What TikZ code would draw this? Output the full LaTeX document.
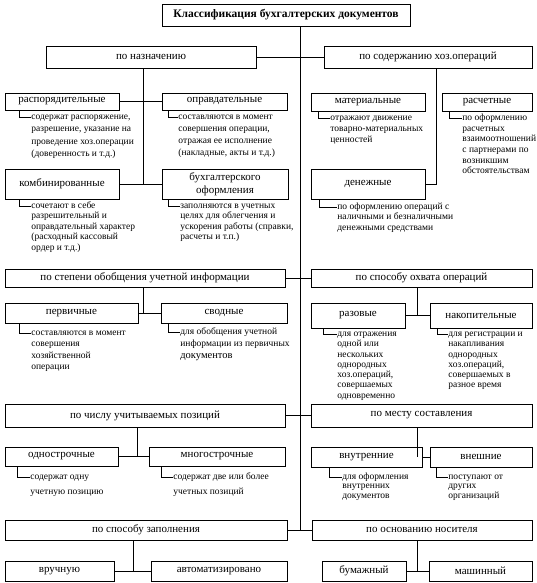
\documentclass[tikz,border=0pt]{standalone}
\usepackage{fontspec}
\setmainfont{Liberation Serif}
\newcommand{\fl}{\rule{0pt}{7pt}}
\begin{document}
\begin{tikzpicture}[x=1pt,y=-1pt,line width=0.8pt,
  box/.style 2 args={draw,inner sep=0pt,align=center,minimum width=#1,minimum height=#2,font=\fontsize{11}{12.5}\selectfont},
  titlebox/.style 2 args={box={#1}{#2},font=\fontsize{11.5}{13}\selectfont\bfseries},
  desc/.style={anchor=north west,inner sep=0pt,align=left,font=\fontsize{9.5}{#1}\selectfont}]
\useasboundingbox (0,0) rectangle (536,583);

% ---------- boxes ----------
\node[titlebox={248}{22}] (title) at (286,15) {Классификация бухгалтерских документов};
\node[box={210}{22}] (naz) at (151,57) {по назначению};
\node[box={208}{22}] (soder) at (428,57) {по содержанию хоз.операций};

\node[box={114}{17}] (rasp) at (62,101.5) {распорядительные};
\node[box={125}{17}] (oprav) at (224.5,101.5) {оправдательные};
\node[box={114}{18}] (mater) at (368,102) {материальные};
\node[box={90}{18}] (rasch) at (487,102) {расчетные};
\node[box={114}{30}] (komb) at (62,184) {комбинированные};
\node[box={126}{30}] (buh) at (225,184) {бухгалтерского\\оформления};
\node[box={114}{30}] (den) at (368,184) {денежные};

\node[box={280}{18}] (step) at (145,278) {по степени обобщения учетной информации};
\node[box={221}{18}] (ohvat) at (421.5,278) {по способу охвата операций};
\node[box={133}{20}] (perv) at (71.5,313) {первичные};
\node[box={126}{20}] (svod) at (224,313) {сводные};
\node[box={94}{25}] (raz) at (358,315.5) {разовые};
\node[box={102}{25}] (nakop) at (481,315.5) {накопительные};

\node[box={280}{23}] (chislu) at (145,415.5) {по числу учитываемых позиций};
\node[box={221}{23}] (mesto) at (421.5,415.5) {по месту составления};
\node[box={113}{19}] (odno) at (61.5,456.5) {однострочные};
\node[box={136}{19}] (mnogo) at (217,456.5) {многострочные};
\node[box={111}{20}] (vnutr) at (366.5,457) {внутренние};
\node[box={102}{20}] (vnesh) at (481,457) {внешние};

\node[box={282}{20}] (zapoln) at (146,530) {по способу заполнения};
\node[box={220}{20}] (nositel) at (422,530) {по основанию носителя};
\node[box={109}{20}] (ruch) at (59.5,571) {вручную};
\node[box={136}{20}] (avto) at (219,571) {автоматизировано};
\node[box={84}{20}] (bum) at (364,571) {бумажный};
\node[box={103}{20}] (mash) at (480.5,571) {машинный};

% ---------- descriptions ----------
\node[desc=12.4] (raspd) at (31,112) {\fl содержат распоряжение,\\разрешение, указание на\\проведение хоз.операции\\(доверенность и т.д.)};
\node[desc=12] (opravd) at (178,112) {\fl составляются в момент\\совершения операции,\\отражая ее исполнение\\(накладные, акты и т.д.)};
\node[desc=11] (materd) at (330,113) {\fl отражают движение\\товарно-материальных\\ценностей};
\node[desc=10.7] (raschd) at (462,113) {\fl по оформлению\\расчетных\\взаимоотношений\\с партнерами по\\возникшим\\обстоятельствам};
\node[desc=10.4] (kombd) at (31,201) {\fl сочетают в себе\\разрешительный и\\оправдательный характер\\(расходный кассовый\\ордер и т.д.)};
\node[desc=10.4] (buhd) at (180,201) {\fl заполняются в учетных\\целях для облегчения и\\ускорения работы (справки,\\расчеты и т.п.)};
\node[desc=10.5] (dend) at (337,202) {\fl по оформлению операций с\\наличными и безналичными\\денежными средствами};
\node[desc=11.3] (pervd) at (31,328) {\fl составляются в момент\\совершения\\хозяйственной\\операции};
\node[desc=12] (svodd) at (180,327) {\fl для обобщения учетной\\информации из первичных\\{\fontsize{10.5}{12}\selectfont документов}};
\node[desc=10.3] (razd) at (337,329) {\fl для отражения\\одной или\\нескольких\\однородных\\хоз.операций,\\совершаемых\\одновременно};
\node[desc=10.3] (nakopd) at (448,329) {\fl для регистрации и\\накапливания\\однородных\\хоз.операций,\\совершаемых в\\разное время};
\node[desc=15] (odnod) at (30,472) {\fl содержат одну\\учетную позицию};
\node[desc=15] (mnogod) at (173,472) {\fl содержат две или более\\учетных позиций};
\node[desc=9.5] (vnutrd) at (342,472) {\fl для оформления\\внутренних\\документов};
\node[desc=9.5] (vneshd) at (448,472) {\fl поступают от\\других\\организаций};

% ---------- junction coordinates ----------
\coordinate (spine) at (300,530);
\coordinate (lj1) at (143,184);
\coordinate (rj1) at (436,184);
\coordinate (mj1) at (143,313);
\coordinate (mj2) at (417,315.5);
\coordinate (lj3) at (137,456.5);
\coordinate (rj3) at (417,457);
\coordinate (lj4) at (133,571);
\coordinate (rj4) at (417,571);

% ---------- connectors ----------
\draw (title.south -| spine) -- (spine);
\draw (naz.east) -- (soder.west);
\draw (naz.south -| lj1) -- (lj1);
\draw (rasp.east) -- (oprav.west);
\draw (komb.east) -- (buh.west);
\draw (soder.south -| rj1) -- (rj1) -- (den.east);

\draw (step.east) -- (ohvat.west);
\draw (step.south -| mj1) -- (mj1);
\draw (perv.east) -- (svod.west);
\draw (ohvat.south -| mj2) -- (mj2);
\draw (raz.east) -- (nakop.west);

\draw (chislu.east) -- (mesto.west);
\draw (chislu.south -| lj3) -- (lj3);
\draw (odno.east) -- (mnogo.west);
\draw (mesto.south -| rj3) -- (rj3);
\draw (vnutr.east) -- (vnesh.west);

\draw (zapoln.east) -- (nositel.west);
\draw (zapoln.south -| lj4) -- (lj4);
\draw (ruch.east) -- (avto.west);
\draw (nositel.south -| rj4) -- (rj4);
\draw (bum.east) -- (mash.west);

% ---------- description elbows ----------
\draw ([xshift=15pt]rasp.south west) |- ([yshift=-5pt]raspd.north west);
\draw ([xshift=7pt]oprav.south west) |- ([yshift=-5pt]opravd.north west);
\draw ([xshift=8pt]mater.south west) |- ([yshift=-5pt]materd.north west);
\draw ([xshift=8pt]rasch.south west) |- ([yshift=-5pt]raschd.north west);
\draw ([xshift=15pt]komb.south west) |- ([yshift=-5pt]kombd.north west);
\draw ([xshift=7pt]buh.south west) |- ([yshift=-5pt]buhd.north west);
\draw ([xshift=9pt]den.south west) |- ([yshift=-5pt]dend.north west);
\draw ([xshift=15pt]perv.south west) |- ([yshift=-5pt]pervd.north west);
\draw ([xshift=8pt]svod.south west) |- ([yshift=-5pt]svodd.north west);
\draw ([xshift=13pt]raz.south west) |- ([yshift=-5pt]razd.north west);
\draw ([xshift=8pt]nakop.south west) |- ([yshift=-5pt]nakopd.north west);
\draw ([xshift=13pt]odno.south west) |- ([yshift=-5pt]odnod.north west);
\draw ([xshift=13pt]mnogo.south west) |- ([yshift=-5pt]mnogod.north west);
\draw ([xshift=19pt]vnutr.south west) |- ([yshift=-5pt]vnutrd.north west);
\draw ([xshift=7pt]vnesh.south west) |- ([yshift=-5pt]vneshd.north west);
\end{tikzpicture}
\end{document}
